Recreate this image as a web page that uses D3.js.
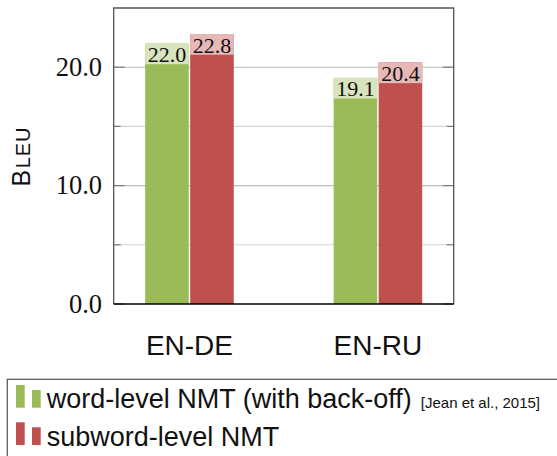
<!DOCTYPE html>
<html>
<head>
<meta charset="utf-8">
<script src="https://cdn.jsdelivr.net/npm/d3@7"></script>
<style>
  html, body { margin: 0; padding: 0; background: #fff; }
  svg { display: block; }
</style>
</head>
<body>
<svg id="chart" width="557" height="456"></svg>
<script>
// Language pairs on the x axis
const pairs = ["EN-DE", "EN-RU"];
// BLEU scores per system
const wordLevel = [22.0, 19.1];
const subwordLevel = [22.8, 20.4];
// Series names
const seriesNames = ["word-level NMT (with back-off)", "subword-level NMT"];
const seriesCite = ["[Jean et al., 2015]", ""];
// Axis ticks
const majorTicks = [0, 10, 20];
const minorTicks = [5, 15];

const colors = ["#9bbb59", "#c0504d"];
const lightColors = ["#d7e4bd", "#e6b9b8"];
const serif = "'Liberation Serif', 'DejaVu Serif', serif";
const sans = "'Liberation Sans', Arial, Helvetica, sans-serif";

const svg = d3.select("#chart");
const plotL = 113.7, plotR = 453.7, plotT = 8, plotB = 304;

const y = d3.scaleLinear().domain([0, 25]).range([plotB, plotT]);
const x = d3.scalePoint().domain(pairs).range([plotL, plotR]).padding(0.402);

const series = [wordLevel, subwordLevel];
const barW = 43.6, gap = 1.4;

// Grid lines
svg.append("g").selectAll("line")
  .data(minorTicks.concat(majorTicks.filter(d => d > 0)))
  .join("line")
  .attr("x1", plotL).attr("x2", plotR)
  .attr("y1", d => y(d)).attr("y2", d => y(d))
  .attr("stroke", d => majorTicks.includes(d) ? "#bdbdbd" : "#d4d4d4")
  .attr("stroke-width", 1.1);

// Tick marks on both sides
const tickG = svg.append("g").attr("stroke", "#7a7a7a").attr("stroke-width", 1.2);
majorTicks.concat(minorTicks).forEach(t => {
  const len = majorTicks.includes(t) ? 11 : 7;
  tickG.append("line").attr("x1", plotL).attr("x2", plotL + len).attr("y1", y(t)).attr("y2", y(t));
  tickG.append("line").attr("x1", plotR - len).attr("x2", plotR).attr("y1", y(t)).attr("y2", y(t));
});

// Bars with value tags
const labelH = 20.7;
series.forEach((vals, si) => {
  const g = svg.append("g");
  const xs = d => si === 0 ? x(pairs[d]) - gap / 2 - barW : x(pairs[d]) + gap / 2;
  const idx = vals.map((v, i) => i);
  g.selectAll("rect.bar").data(idx).join("rect")
    .attr("class", "bar")
    .attr("x", xs)
    .attr("y", i => y(vals[i]))
    .attr("width", barW)
    .attr("height", i => plotB - y(vals[i]))
    .attr("fill", colors[si]);
  g.selectAll("rect.tag").data(idx).join("rect")
    .attr("class", "tag")
    .attr("x", xs)
    .attr("y", i => y(vals[i]))
    .attr("width", barW)
    .attr("height", labelH)
    .attr("fill", lightColors[si]);
  g.selectAll("text").data(idx).join("text")
    .attr("x", i => xs(i) + barW / 2)
    .attr("y", i => y(vals[i]) + labelH - 2.2)
    .attr("text-anchor", "middle")
    .attr("font-family", serif)
    .attr("font-size", 22)
    .attr("fill", "#111")
    .text(i => vals[i].toFixed(1));
});

// Frame
svg.append("path")
  .attr("d", `M${plotL},${plotB}V${plotT}H${plotR}V${plotB}`)
  .attr("fill", "none").attr("stroke", "#555").attr("stroke-width", 1.3);
svg.append("line")
  .attr("x1", plotL).attr("x2", plotR).attr("y1", plotB).attr("y2", plotB)
  .attr("stroke", "#000").attr("stroke-width", 1.3);

// Y tick labels
svg.append("g").selectAll("text").data(majorTicks).join("text")
  .attr("x", 102)
  .attr("y", d => y(d) + 8.8)
  .attr("text-anchor", "end")
  .attr("font-family", serif)
  .attr("font-size", 26.5)
  .attr("fill", "#111")
  .text(d => d.toFixed(1));

// X category labels
svg.append("g").selectAll("text").data(pairs).join("text")
  .attr("x", d => x(d))
  .attr("y", 355)
  .attr("text-anchor", "middle")
  .attr("font-family", sans)
  .attr("font-size", 28)
  .attr("fill", "#111")
  .text(d => d);

// Y axis title in small caps
const yt = svg.append("text")
  .attr("transform", "translate(30,156.5) rotate(-90)")
  .attr("text-anchor", "middle")
  .attr("font-family", sans)
  .attr("fill", "#111");
yt.append("tspan").attr("font-size", 25).attr("letter-spacing", 1.5).text("B");
yt.append("tspan").attr("font-size", 20).attr("letter-spacing", 1).text("LEU");

// Legend
const lg = svg.append("g");
lg.append("rect")
  .attr("x", 7.3).attr("y", 379.3).attr("width", 600).attr("height", 120)
  .attr("fill", "#fff").attr("stroke", "#555").attr("stroke-width", 1.2);
seriesNames.forEach((name, i) => {
  const base = 407.7 + i * 37.3;
  lg.append("rect").attr("x", 16).attr("y", base - 22.7).attr("width", 8.7).attr("height", 22.7).attr("fill", colors[i]);
  lg.append("rect").attr("x", 32).attr("y", base - 17.7).attr("width", 8.7).attr("height", 17.7).attr("fill", colors[i]);
  const t = lg.append("text")
    .attr("x", 46.7).attr("y", base + 0.5)
    .attr("font-family", sans).attr("fill", "#111");
  t.append("tspan").attr("font-size", 27).text(name);
  if (seriesCite[i]) {
    t.append("tspan").attr("font-size", 15).attr("dx", 9).text(seriesCite[i]);
  }
});
</script>
</body>
</html>
